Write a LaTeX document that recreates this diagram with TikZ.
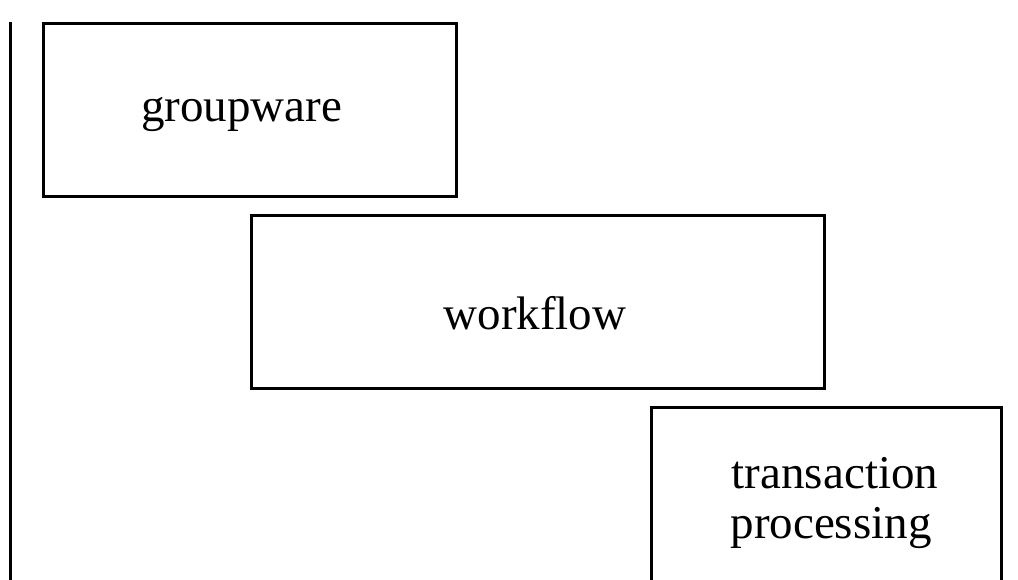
\documentclass[tikz,border=0pt]{standalone}
\usepackage{fontspec}
\setmainfont{Liberation Serif}
\begin{document}
\begin{tikzpicture}[x=1pt,y=-1pt,
  layer/.style={draw=black, line width=3pt, inner sep=0pt},
  caption/.style={anchor=base, inner sep=0pt, font=\fontsize{47}{47}\selectfont}]
\useasboundingbox (0,0) rectangle (1018,579);
% axis on the left
\coordinate (axtop) at (10,22);
\coordinate (axbot) at (10,585);
\draw[line width=3pt] (axtop) -- (axbot);
% stacked layers
\node[layer, minimum width=413pt, minimum height=173pt] (gw) at (250,110) {};
\node[layer, minimum width=573pt, minimum height=173pt] (wf) at (538,302) {};
\node[layer, minimum width=349.5pt, minimum height=190pt] (tp) at (826.25,502.5) {};
% layer names
\node[caption] (gwtext) at (241.5,121) {groupware};
\node[caption] (wftext) at (535,329) {workflow};
\node[caption] (tptext1) at (835,488) {transaction};
\node[caption] (tptext2) at (831,538) {processing};
\end{tikzpicture}
\end{document}
